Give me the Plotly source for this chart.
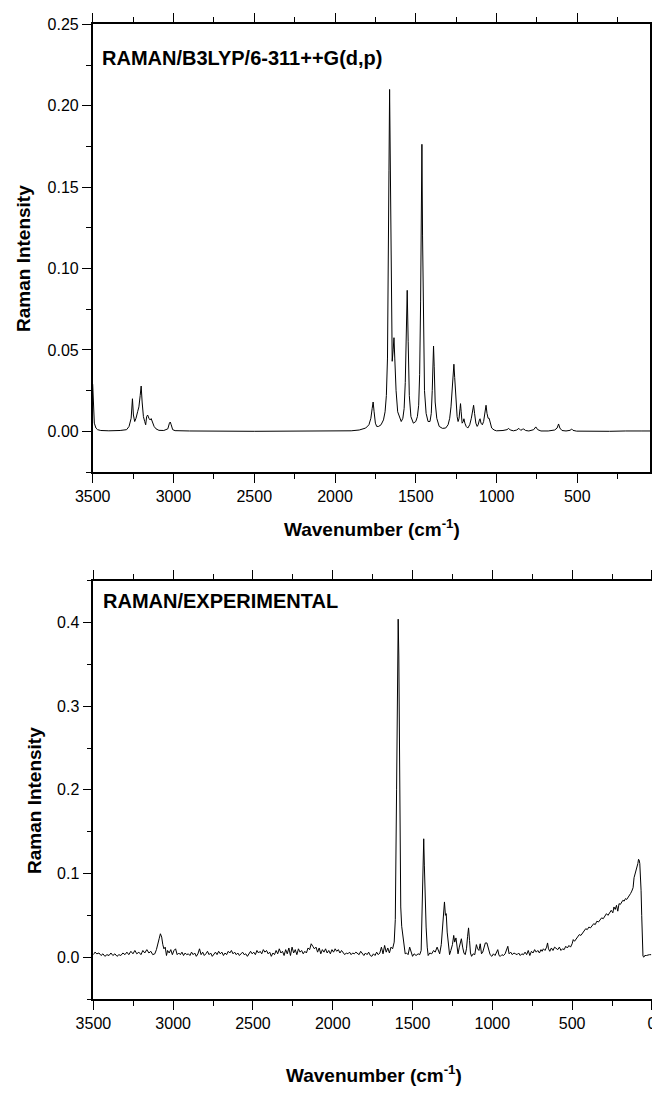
import plotly.graph_objects as go

# ---------------- Calculated Raman spectrum (B3LYP/6-311++G(d,p)) ----------------
calc_wn = [3500, 3495, 3490, 3480, 3470, 3450, 3400, 3330, 3290, 3275, 3262, 3254, 3248, 3240,
           3232, 3222, 3214, 3206, 3200, 3194, 3186, 3178, 3172, 3166, 3160, 3152, 3145, 3138,
           3130, 3120, 3108, 3090, 3060, 3035, 3025, 3020, 3014, 3005, 2990, 2900, 2500, 2000,
           1900, 1850, 1810, 1790, 1778, 1770, 1764, 1758, 1750, 1742, 1730, 1715, 1700, 1690,
           1682, 1675, 1670, 1666, 1662, 1658, 1652, 1646, 1640, 1635, 1630, 1622, 1612, 1600,
           1590, 1580, 1572, 1565, 1559, 1553, 1547, 1540, 1530, 1515, 1500, 1490, 1482, 1476,
           1470, 1466, 1462, 1458, 1453, 1446, 1436, 1424, 1412, 1404, 1398, 1393, 1390, 1386,
           1380, 1370, 1355, 1335, 1315, 1300, 1290, 1282, 1274, 1268, 1264, 1259, 1252, 1244,
           1238, 1232, 1226, 1223, 1219, 1213, 1206, 1202, 1196, 1188, 1178, 1166, 1156, 1148,
           1142, 1136, 1128, 1120, 1114, 1106, 1102, 1096, 1088, 1080, 1072, 1065, 1059, 1052,
           1046, 1040, 1030, 1015, 1000, 960, 935, 925, 915, 895, 875, 862, 850, 840, 832, 820,
           800, 770, 757, 745, 725, 680, 640, 625, 616, 608, 595, 570, 545, 535, 527, 505, 450,
           300, 200, 150, 100, 50]
calc_int = [0.029, 0.012, 0.005, 0.002, 0.001, 0.0005, 0.0003, 0.0005, 0.001, 0.003, 0.008, 0.020,
            0.010, 0.006, 0.008, 0.012, 0.015, 0.022, 0.0278, 0.018, 0.009, 0.006, 0.004, 0.009,
            0.010, 0.008, 0.007, 0.0078, 0.006, 0.003, 0.0015, 0.0006, 0.0005, 0.0015, 0.005,
            0.0057, 0.004, 0.001, 0.0004, 0.0002, 0.0, 0.0,
            0.0003, 0.0008, 0.002, 0.004, 0.008, 0.014, 0.018, 0.012, 0.005, 0.003, 0.003, 0.004,
            0.007, 0.012, 0.022, 0.045, 0.09, 0.16, 0.21, 0.16, 0.08, 0.043, 0.05, 0.0575, 0.045,
            0.025, 0.012, 0.008, 0.006, 0.008, 0.014, 0.03, 0.06, 0.0866, 0.055, 0.022, 0.009,
            0.005, 0.006, 0.009, 0.016, 0.035, 0.08, 0.13, 0.1763, 0.12, 0.06, 0.025, 0.011,
            0.006, 0.006, 0.011, 0.025, 0.045, 0.0524, 0.04, 0.018, 0.008, 0.003, 0.0018, 0.002,
            0.004, 0.008, 0.015, 0.025, 0.036, 0.0412, 0.033, 0.018, 0.009, 0.006, 0.008, 0.014,
            0.017, 0.012, 0.005, 0.006, 0.0077, 0.005, 0.003, 0.002, 0.004, 0.008, 0.013, 0.016,
            0.011, 0.005, 0.003, 0.004, 0.007, 0.0077, 0.005, 0.004, 0.006, 0.011, 0.016, 0.011,
            0.008, 0.008, 0.005, 0.002, 0.0008, 0.0003, 0.0005, 0.001, 0.0018, 0.0008, 0.0003,
            0.0008, 0.0018, 0.0006, 0.0012, 0.0014, 0.0005, 0.0002, 0.001, 0.0027, 0.001, 0.0002,
            0.0002, 0.0008, 0.002, 0.0045, 0.002, 0.0005, 0.0002, 0.0006, 0.0014, 0.0006, 0.0001,
            0.0, 0.0, 0.0002, 0.0004, 0.0002, 0.0002]

# ---------------- Experimental Raman spectrum ----------------
exp_wn = [3500, 3490, 3478, 3465, 3452, 3440, 3428, 3415, 3402, 3390, 3378, 3365, 3352, 3340,
          3328, 3315, 3302, 3290, 3278, 3265, 3252, 3240, 3228, 3215, 3202, 3190, 3178, 3165,
          3152, 3140, 3128, 3115, 3105, 3095, 3088, 3080, 3072, 3065, 3058, 3050, 3042, 3035,
          3025, 3015, 3005, 2995, 2985, 2975, 2965, 2955, 2945, 2935, 2925, 2915, 2905, 2895,
          2885, 2875, 2865, 2855, 2845, 2835, 2825, 2815, 2805, 2795, 2785, 2775, 2765, 2755,
          2745, 2735, 2725, 2715, 2705, 2695, 2685, 2675, 2665, 2655, 2645, 2635, 2625, 2615,
          2605, 2595, 2585, 2575, 2565, 2555, 2545, 2535, 2525, 2515, 2505, 2495, 2485, 2475,
          2465, 2455, 2445, 2435, 2425, 2415, 2405, 2395, 2385, 2375, 2365, 2355, 2345, 2335,
          2325, 2315, 2305, 2295, 2285, 2275, 2265, 2255, 2245, 2235, 2225, 2215, 2205, 2195,
          2185, 2175, 2165, 2155, 2145, 2135, 2125, 2115, 2105, 2095, 2085, 2075, 2065, 2055,
          2045, 2035, 2025, 2015, 2005, 1995, 1985, 1975, 1965, 1955, 1945, 1935, 1925, 1915,
          1905, 1895, 1885, 1875, 1865, 1855, 1845, 1835, 1825, 1815, 1805, 1795, 1785, 1775,
          1765, 1755, 1745, 1735, 1725, 1715, 1705, 1695, 1685, 1675, 1665, 1655, 1645, 1635,
          1625, 1615, 1608, 1600, 1594, 1590, 1586, 1580, 1574, 1568, 1560, 1552, 1546, 1538,
          1528, 1518, 1510, 1500, 1490, 1478, 1465, 1455, 1446, 1440, 1434, 1430, 1426, 1420,
          1415, 1408, 1402, 1392, 1380, 1368, 1358, 1346, 1338, 1330, 1320, 1312, 1305, 1300,
          1294, 1289, 1283, 1276, 1268, 1260, 1250, 1242, 1236, 1228, 1221, 1215, 1207, 1200,
          1194, 1186, 1178, 1170, 1162, 1155, 1149, 1143, 1137, 1130, 1120, 1110, 1100, 1092,
          1084, 1076, 1068, 1060, 1052, 1044, 1034, 1024, 1014, 1003, 993, 983, 975, 966, 958,
          950, 940, 930, 920, 910, 903, 895, 885, 875, 865, 855, 845, 835, 825, 815, 805, 795,
          785, 775, 765, 755, 745, 735, 725, 715, 705, 695, 688, 680, 670, 660, 654, 648, 640,
          630, 620, 610, 600, 590, 580, 570, 560, 550, 540, 530, 520, 510, 500, 493, 485, 475,
          465, 455, 445, 435, 425, 415, 405, 395, 385, 375, 365, 355, 345, 335, 325, 315, 305,
          295, 285, 275, 265, 255, 245, 238, 230, 222, 214, 206, 198, 190, 182, 174, 166, 158,
          150, 142, 134, 126, 118, 112, 106, 100, 94, 88, 84, 80, 76, 72, 68, 64, 60, 56, 50,
          45, 35, 25, 15, 5]
exp_int = [0.003, 0.006, 0.004, 0.005, 0.002, 0.004, 0.001, 0.003, 0.002, 0.005, 0.002, 0.004,
           0.001, 0.003, 0.002, 0.005, 0.003, 0.006, 0.003, 0.007, 0.004, 0.008, 0.004, 0.006,
           0.003, 0.008, 0.005, 0.009, 0.005, 0.007, 0.003, 0.004, 0.009, 0.015, 0.022, 0.028,
           0.024, 0.015, 0.010, 0.012, 0.002, 0.008, 0.005, 0.009, 0.003, 0.008, 0.010, 0.003,
           0.005, 0.003, 0.006, 0.002, 0.005, 0.003, 0.004, 0.002, 0.006, 0.003, 0.005, 0.001,
           0.004, 0.010, 0.003, 0.006, 0.002, 0.004, 0.007, 0.003, 0.005, 0.001, 0.004, 0.006,
           0.003, 0.007, 0.004, 0.006, 0.002, 0.005, 0.003, 0.007, 0.005, 0.008, 0.004, 0.006,
           0.003, 0.005, 0.002, 0.004, 0.006, 0.003, 0.004, 0.001, 0.005, 0.007, 0.004, 0.006,
           0.003, 0.008, 0.005, 0.007, 0.004, 0.009, 0.006, 0.008, 0.004, 0.006, 0.001, 0.005,
           0.003, 0.008, 0.004, 0.010, 0.005, 0.007, 0.002, 0.009, 0.004, 0.011, 0.002, 0.012,
           0.005, 0.009, 0.003, 0.010, 0.006, 0.008, 0.004, 0.007, 0.005, 0.011, 0.009, 0.016,
           0.013, 0.010, 0.012, 0.006, 0.011, 0.004, 0.009, 0.006, 0.010, 0.005, 0.008, 0.004,
           0.009, 0.006, 0.010, 0.007, 0.009, 0.005, 0.008, 0.006, 0.003, 0.005, 0.004, 0.006,
           0.003, 0.005, 0.004, 0.006, 0.004, 0.003, 0.007, 0.004, 0.002, 0.005, 0.003, 0.006,
           0.002, 0.001, 0.004, 0.002, 0.006, 0.003, 0.005, 0.012, 0.004, 0.014, 0.006, 0.011,
           0.005, 0.012, 0.010, 0.018, 0.045, 0.20, 0.37, 0.404, 0.36, 0.16, 0.06, 0.037, 0.025,
           0.010, 0.004, 0.005, 0.003, 0.012, 0.006, 0.001, 0.004, 0.002, 0.004, 0.003, 0.008,
           0.05, 0.12, 0.1415, 0.11, 0.06, 0.036, 0.012, 0.002, 0.005, 0.004, 0.008, 0.006,
           0.012, 0.007, 0.004, 0.015, 0.035, 0.058, 0.066, 0.05, 0.052, 0.030, 0.012, 0.003,
           0.008, 0.015, 0.026, 0.018, 0.023, 0.010, 0.004, 0.012, 0.019, 0.022, 0.012, 0.005,
           0.003, 0.010, 0.025, 0.035, 0.020, 0.005, 0.001, 0.004, 0.003, 0.015, 0.010, 0.008,
           0.016, 0.004, 0.006, 0.012, 0.017, 0.017, 0.010, 0.003, 0.001, 0.004, 0.002, 0.005,
           0.009, 0.002, 0.001, 0.003, 0.002, 0.004, 0.010, 0.013, 0.004, 0.006, 0.003, 0.005,
           0.004, 0.003, 0.005, 0.002, 0.004, 0.003, 0.006, 0.003, 0.008, 0.002, 0.007, 0.005,
           0.009, 0.006, 0.008, 0.005, 0.009, 0.007, 0.010, 0.008, 0.012, 0.017, 0.010, 0.007,
           0.011, 0.008, 0.012, 0.010, 0.009, 0.012, 0.008, 0.010, 0.009, 0.013, 0.011, 0.014,
           0.012, 0.016, 0.021, 0.019, 0.022, 0.025, 0.027, 0.026, 0.029, 0.031, 0.034, 0.033,
           0.036, 0.035, 0.038, 0.040, 0.039, 0.043, 0.042, 0.045, 0.047, 0.046, 0.049, 0.052,
           0.050, 0.054, 0.056, 0.053, 0.060, 0.057, 0.062, 0.055, 0.064, 0.063, 0.066, 0.068,
           0.067, 0.070, 0.069, 0.071, 0.074, 0.076, 0.079, 0.083, 0.095, 0.099, 0.102, 0.106,
           0.112, 0.117, 0.116, 0.112, 0.100, 0.080, 0.050, 0.020, 0.001, 0.000, 0.002, 0.002,
           0.003, 0.003, 0.003]

FONT = "Liberation Sans, Arial, Helvetica, sans-serif"
TICKFONT = dict(family=FONT, size=16, color="black")
TITLEFONT = dict(family=FONT, size=19, color="black")

fig = go.Figure()
fig.add_trace(go.Scatter(x=calc_wn, y=calc_int, mode="lines",
                         line=dict(color="black", width=1), xaxis="x", yaxis="y",
                         showlegend=False, hoverinfo="skip"))
fig.add_trace(go.Scatter(x=exp_wn, y=exp_int, mode="lines",
                         line=dict(color="black", width=1), xaxis="x2", yaxis="y2",
                         showlegend=False, hoverinfo="skip"))

W, H = 652, 1099
top_box = dict(l=92.7, r=650, t=24, b=472)
bot_box = dict(l=93.3, r=652, t=580.7, b=999)

def xdom(b):
    return [b["l"] / W, b["r"] / W]

def ydom(b):
    return [1 - b["b"] / H, 1 - b["t"] / H]

axis_common = dict(showline=True, linecolor="black", linewidth=1.5, mirror="allticks",
                   ticks="outside", tickcolor="black", tickwidth=1.2, ticklen=9,
                   showgrid=False, zeroline=False, tickfont=TICKFONT, automargin=False,
                   ticklabeloverflow="allow")

fig.update_layout(
    width=W, height=H,
    margin=dict(l=0, r=0, t=0, b=0, pad=0, autoexpand=False),
    paper_bgcolor="white", plot_bgcolor="white",
    xaxis=dict(domain=xdom(top_box), range=[3500, 50], anchor="y",
               tick0=0, dtick=500,
               minor=dict(ticks="outside", ticklen=5, dtick=250, tickcolor="black", tickwidth=1.2),
               **axis_common),
    yaxis=dict(domain=ydom(top_box), range=[-0.025, 0.2502], anchor="x",
               tick0=0, dtick=0.05, tickformat=".2f",
               minor=dict(ticks="outside", ticklen=5, dtick=0.025, tickcolor="black", tickwidth=1.2),
               **axis_common),
    xaxis2=dict(domain=xdom(bot_box), range=[3500.5, -0.5], anchor="y2",
                tick0=0, dtick=500,
                minor=dict(ticks="outside", ticklen=5, dtick=250, tickcolor="black", tickwidth=1.2),
                **axis_common),
    yaxis2=dict(domain=ydom(bot_box), range=[-0.05, 0.45], anchor="x2",
                tick0=0, dtick=0.1, tickformat=".1f",
                minor=dict(ticks="outside", ticklen=5, dtick=0.05, tickcolor="black", tickwidth=1.2),
                **axis_common),
)

def px_x(v):
    return v / W

def px_y(v):
    return 1 - v / H

annotations = [
    dict(text="<b>RAMAN/B3LYP/6-311++G(d,p)</b>", x=px_x(100), y=px_y(58), xanchor="left",
         yanchor="middle", font=dict(family=FONT, size=20, color="black")),
    dict(text="<b>RAMAN/EXPERIMENTAL</b>", x=px_x(101), y=px_y(601), xanchor="left",
         yanchor="middle", font=dict(family=FONT, size=20, color="black")),
    dict(text="<b>Raman Intensity</b>", x=px_x(24), y=px_y(259), textangle=-90,
         xanchor="center", yanchor="middle", font=TITLEFONT),
    dict(text="<b>Raman Intensity</b>", x=px_x(34), y=px_y(801), textangle=-90,
         xanchor="center", yanchor="middle", font=TITLEFONT),
    dict(text="<b>Wavenumber (cm<sup>-1</sup>)</b>", x=px_x(372), y=px_y(528),
         xanchor="center", yanchor="middle", font=TITLEFONT),
    dict(text="<b>Wavenumber (cm<sup>-1</sup>)</b>", x=px_x(374), y=px_y(1074),
         xanchor="center", yanchor="middle", font=TITLEFONT),
]
for a in annotations:
    a.update(xref="paper", yref="paper", showarrow=False)
fig.update_layout(annotations=annotations)

fig.write_html("out.html")
